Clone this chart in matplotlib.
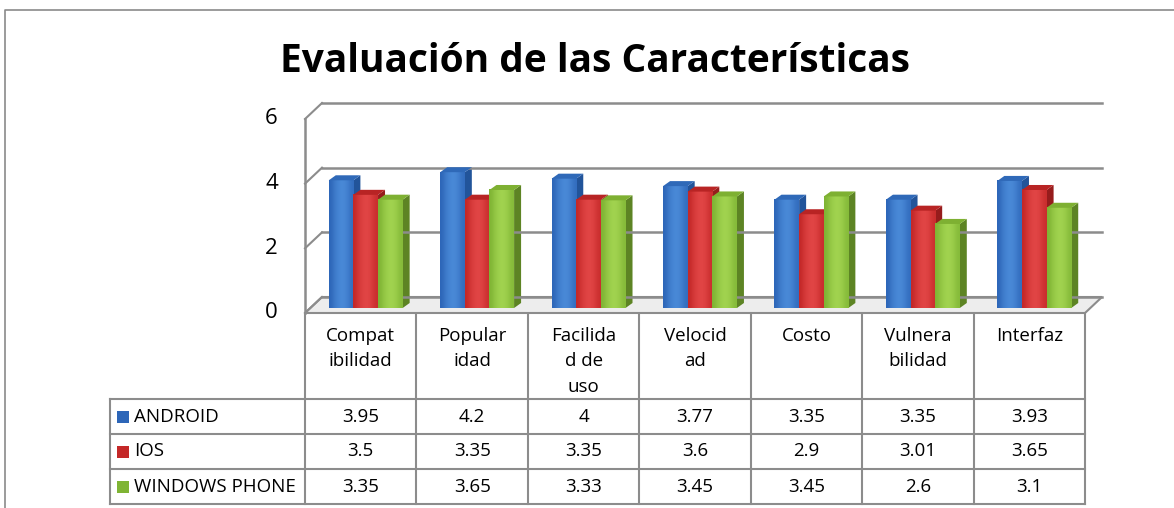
import numpy as np
import matplotlib
matplotlib.use('Agg')
import matplotlib.pyplot as plt
from matplotlib.patches import Polygon, Rectangle
from matplotlib.colors import LinearSegmentedColormap
import matplotlib.transforms as mtransforms

# datos
categorias = ['Compat\nibilidad', 'Popular\nidad', 'Facilida\nd de\nuso', 'Velocid\nad',
              'Costo', 'Vulnera\nbilidad', 'Interfaz']
series = ['ANDROID', 'IOS', 'WINDOWS PHONE']
android = [3.95, 4.2, 4, 3.77, 3.35, 3.35, 3.93]
ios = [3.5, 3.35, 3.35, 3.6, 2.9, 3.01, 3.65]
windows = [3.35, 3.65, 3.33, 3.45, 3.45, 2.6, 3.1]
valores = [android, ios, windows]
etiquetas = [['3.95', '4.2', '4', '3.77', '3.35', '3.35', '3.93'],
             ['3.5', '3.35', '3.35', '3.6', '2.9', '3.01', '3.65'],
             ['3.35', '3.65', '3.33', '3.45', '3.45', '2.6', '3.1']]
yticks = [0, 2, 4, 6]

# colores (borde frente, centro frente, lado, arriba)
colores = [('#2d66b8', '#4a8ad8', '#22549a', '#2f69b8'),
           ('#c42828', '#e24646', '#961c1c', '#b82424'),
           ('#7fb434', '#a2d450', '#5d8424', '#7eb032')]

W, H = 1174, 508
fig = plt.figure(figsize=(W / 100, H / 100), dpi=100)
plt.rcParams['font.family'] = ['Open Sans', 'DejaVu Sans']

# capa de fondo en pixeles
tab = fig.add_axes([0, 0, 1, 1])
tab.set_xlim(0, W)
tab.set_ylim(H, 0)
tab.axis('off')

# area de la grafica (cara frontal)
x0, x1, yb, yt = 305, 1085, 313, 119
ax = fig.add_axes([x0 / W, (H - yb) / H, (x1 - x0) / W, (yb - yt) / H])
ax.set_xlim(-0.5, 6.5)
ax.set_ylim(0, 6)
ax.axis('off')

n = len(categorias)
upx = 7 / (x1 - x0)      # unidades x por pixel
upy = 6 / (yb - yt)      # unidades y por pixel
DX, DY = 17 * upx, 16 * upy
gris = '#8c8c8c'

# frame del grafico
tab.plot([5, 5, W], [H, 10, 10], color='#8a8a8a', lw=1.2)

# piso
ax.add_patch(Polygon([(-0.5, 0), (n - 0.5, 0), (n - 0.5 + DX, DY), (-0.5 + DX, DY)],
                     closed=True, facecolor='#ededed', edgecolor=gris, lw=1.5, clip_on=False))
# lineas de division y pared izquierda
for v in yticks:
    ax.plot([-0.5 + DX, n - 0.5 + DX], [v + DY, v + DY], color=gris, lw=1.8, clip_on=False)
    ax.plot([-0.5, -0.5 + DX], [v, v + DY], color=gris, lw=1.5, clip_on=False)
    ax.text(-0.5 - 27 * upx, v, str(v), ha='right', va='center', fontsize=16, color='black')
ax.plot([-0.5, -0.5], [0, 6], color=gris, lw=1.8, clip_on=False)

# barras
BW = 0.221
BX, BY = 5 * upx, 5 * upy
SX, SY = 7 * upx, 5 * upy
grad = np.array([[0.0, 0.5, 0.8, 1.0, 0.9, 0.6, 0.2]])
for i in range(n):
    for j in range(len(series)):
        v = valores[j][i]
        borde, centro, ld, ar = colores[j]
        cmap = LinearSegmentedColormap.from_list('c%d' % j, [borde, centro])
        xl = i + BX + (j - 1.5) * BW
        xr = xl + BW
        ax.add_patch(Polygon([(xr, BY), (xr + SX, BY + SY), (xr + SX, v + BY + SY), (xr, v + BY)],
                             closed=True, facecolor=ld, edgecolor='none', clip_on=False))
        ax.imshow(grad, cmap=cmap, vmin=0, vmax=1, aspect='auto', interpolation='bicubic',
                  extent=(xl, xr, BY, v + BY), clip_on=False, zorder=2)
        ax.add_patch(Polygon([(xl, v + BY), (xr, v + BY), (xr + SX, v + BY + SY), (xl + SX, v + BY + SY)],
                             closed=True, facecolor=ar, edgecolor='none', clip_on=False, zorder=2))
ax.set_xlim(-0.5, 6.5)
ax.set_ylim(0, 6)

# tabla de datos
tr = mtransforms.blended_transform_factory(ax.transData, tab.transData)
filas = [313, 399, 434, 469, 504]
for k in range(n + 1):
    tab.plot([k - 0.5, k - 0.5], [filas[0], filas[-1]], color=gris, lw=1.5, transform=tr)
for yy in filas[1:]:
    tab.plot([110, x1], [yy, yy], color=gris, lw=1.5)
tab.plot([110, 110], [filas[1], filas[-1]], color=gris, lw=1.5)

for i, c in enumerate(categorias):
    for m, linea in enumerate(c.split('\n')):
        tab.text(i, 336 + m * 25.5, linea, transform=tr, ha='center', va='center', fontsize=13.5)

for j, s in enumerate(series):
    yc = (filas[j + 1] + filas[j + 2]) / 2
    tab.add_patch(Rectangle((117, yc - 6), 12, 12, facecolor=colores[j][0], edgecolor='none'))
    tab.text(134, yc, s, ha='left', va='center', fontsize=13.5)
    for i in range(n):
        tab.text(i, yc, etiquetas[j][i], transform=tr, ha='center', va='center', fontsize=13.5)

tab.text(595, 61, 'Evaluación de las Características', ha='center', va='center',
         fontsize=28, fontweight='bold')

fig.savefig('out.png', dpi=100)
